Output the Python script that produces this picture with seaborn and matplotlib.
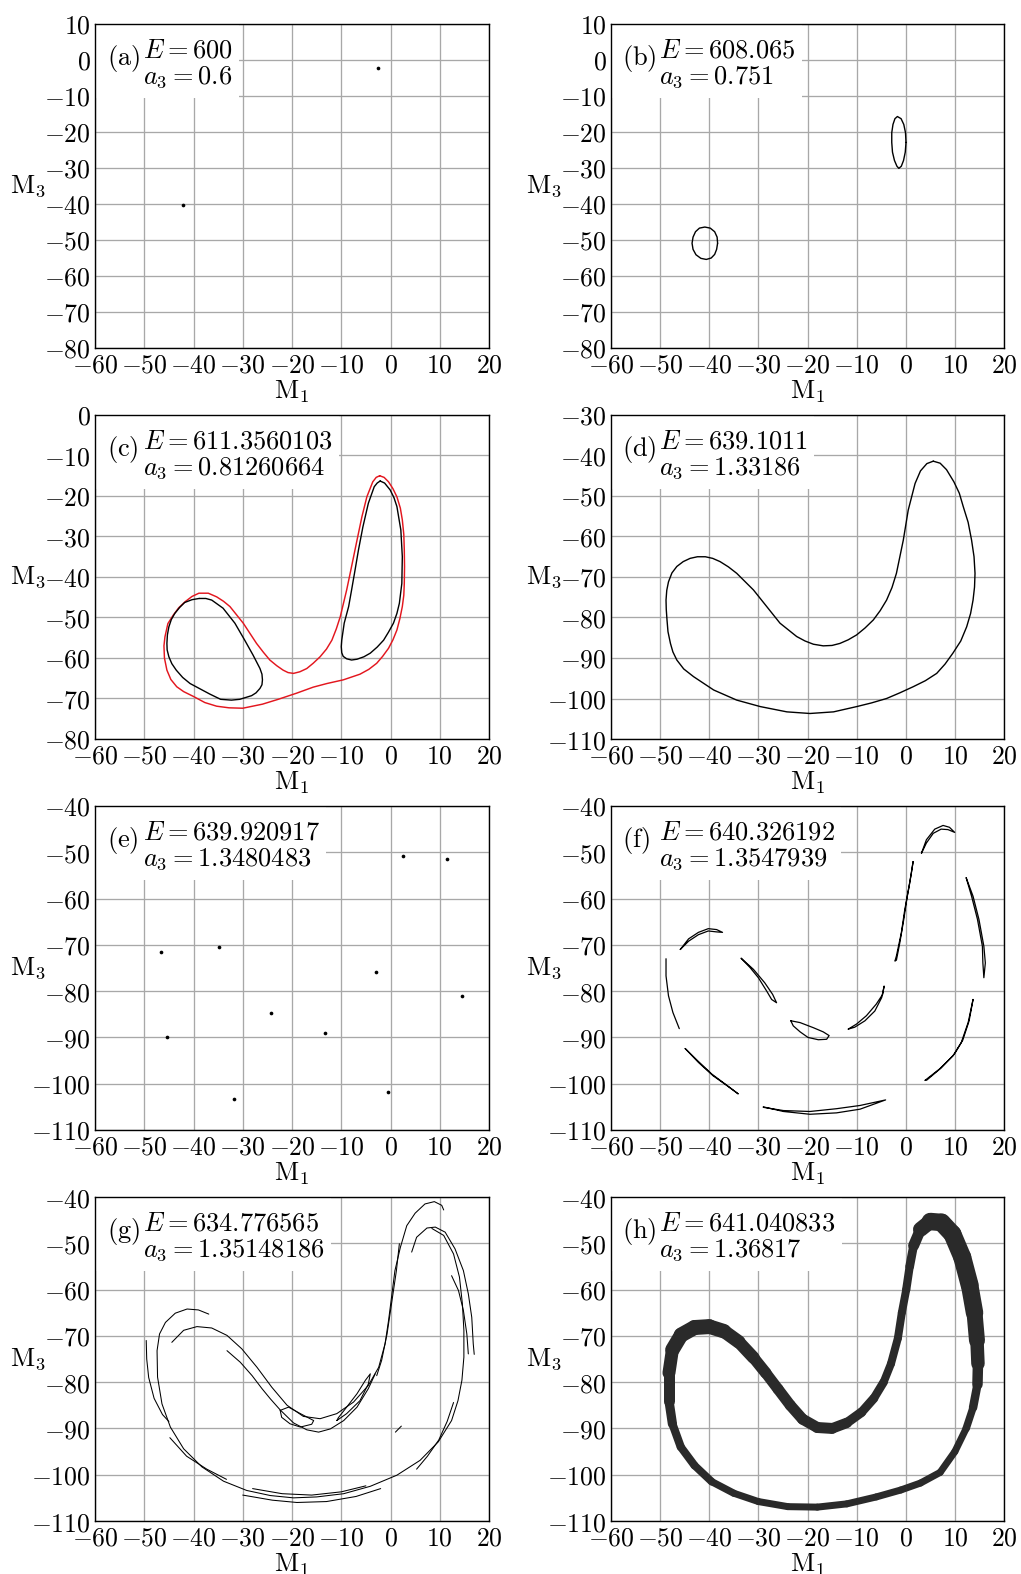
import matplotlib
matplotlib.use('Agg')
import matplotlib.pyplot as plt
import seaborn as sns
from matplotlib.patches import Rectangle
from matplotlib.ticker import FuncFormatter, MultipleLocator

# ------------------------------------------------------------------ data
panel_tags = ['a', 'b', 'c', 'd', 'e', 'f', 'g', 'h']
panel_E = ['600', '608.065', '611.3560103', '639.1011',
           '639.920917', '640.326192', '634.776565', '641.040833']
panel_a3 = ['0.6', '0.751', '0.81260664', '1.33186',
            '1.3480483', '1.3547939', '1.35148186', '1.36817']
panel_ylim = [(-80, 10), (-80, 10), (-80, 0), (-110, -30),
              (-110, -40), (-110, -40), (-110, -40), (-110, -40)]

# (a) fixed points
a_x = [-42.1, -2.5]
a_y = [-40.2, -2.2]

# (b) two small closed orbits
b_left_x = [-38.3, -38.4, -38.9, -39.8, -40.9, -42.0, -42.8, -43.3, -43.5,
            -43.3, -42.7, -41.7, -40.6, -39.6, -38.9, -38.5, -38.3]
b_left_y = [-50.9, -49.2, -47.7, -46.7, -46.4, -46.7, -47.7, -49.2, -50.9,
            -52.6, -54.1, -55.1, -55.4, -55.0, -54.0, -52.6, -50.9]
b_right_x = [0.05, -0.05, -0.4, -0.95, -1.7, -2.2, -2.6, -2.85, -2.85,
             -2.7, -2.3, -1.8, -1.4, -0.9, -0.45, -0.1, 0.05]
b_right_y = [-22.9, -20.2, -17.9, -16.3, -15.7, -16.3, -17.9, -20.2, -22.9,
             -25.6, -27.9, -29.5, -30.1, -29.5, -27.9, -25.6, -22.9]

# (c) two black loops and the red enclosing orbit
c_left_x = [-38.85, -37.5, -36.3, -34.0, -31.6, -29.6, -27.9, -26.5, -26.1,
            -26.0, -26.1, -26.5, -27.3, -28.2, -30.6, -32.3, -34.5, -36.7,
            -38.7, -40.7, -42.2, -43.5, -44.4, -45.0, -45.35, -45.4, -45.3,
            -45.0, -44.5, -43.8, -42.8, -41.8, -40.3, -38.85]
c_left_y = [-45.3, -45.3, -45.7, -47.7, -51.4, -55.6, -59.3, -62.6, -64.0,
            -65.4, -66.6, -67.5, -68.6, -69.3, -70.2, -70.4, -70.2, -68.9,
            -67.6, -66.3, -64.8, -63.0, -61.4, -59.7, -58.0, -56.4, -54.3,
            -52.3, -50.5, -49.0, -47.5, -46.3, -45.6, -45.3]
c_right_x = [-2.1, -1.2, -0.07, 0.7, 1.3, 2.1, 2.4, 2.3, 1.8, 1.3, 0.6, -0.4,
             -1.4, -2.7, -4.1, -5.4, -6.8, -7.9, -8.9, -9.6, -9.9, -10.0,
             -9.9, -9.4, -8.5, -7.9, -7.2, -6.5, -5.6, -4.5, -3.3, -2.7, -2.1]
c_right_y = [-16.3, -16.8, -18.5, -20.4, -22.6, -28.4, -35.0, -41.6, -46.5,
             -49.0, -51.4, -53.6, -55.6, -57.3, -58.8, -59.7, -60.3, -60.5,
             -60.2, -59.6, -58.7, -57.2, -55.6, -51.4, -47.3, -43.2, -38.3,
             -33.3, -27.6, -21.8, -17.7, -16.8, -16.3]
c_red_x = [-2.2, -1.3, -0.4, 0.5, 1.3, 2.0, 2.4, 2.7, 2.8, 2.85, 2.8, 2.7,
           2.4, 1.9, 1.3, 0.5, -0.4, -1.6, -2.8, -4.4, -6.2, -9.6, -12.9,
           -15.7, -19.1, -22.8, -26.0, -30.0, -32.8, -35.3, -37.7, -40.0,
           -42.0, -43.4, -44.6, -45.4, -45.9, -46.0, -45.8, -45.2, -44.1,
           -43.0, -41.7, -40.3, -38.9, -37.0, -35.3, -33.9, -32.6, -29.9,
           -27.2, -25.8, -24.5, -23.1, -21.8, -20.8, -19.7, -18.4, -17.0,
           -15.7, -14.3, -13.0, -11.9, -11.0, -10.2, -8.9, -7.9, -6.8, -5.8,
           -4.8, -3.6, -2.9, -2.2]
c_red_y = [-15.0, -15.4, -16.5, -18.2, -20.2, -23.0, -25.9, -29.5, -33.3,
           -37.5, -41.6, -44.5, -47.3, -50.3, -53.1, -55.5, -57.6, -59.6,
           -61.3, -62.8, -64.0, -65.4, -66.3, -67.2, -68.7, -70.2, -71.4,
           -72.4, -72.3, -71.9, -71.0, -69.5, -68.3, -67.1, -65.3, -63.0,
           -60.0, -57.0, -54.8, -51.5, -49.4, -47.6, -46.1, -44.8, -44.0,
           -44.0, -44.9, -46.0, -47.3, -51.4, -56.4, -58.6, -60.5, -61.9,
           -63.0, -63.6, -63.8, -63.4, -62.6, -61.3, -59.7, -57.8, -55.6,
           -52.8, -49.8, -43.2, -37.4, -30.9, -25.1, -20.2, -16.5, -15.4, -15.0]

# (d) single closed orbit
d_x = [5.6, 7.0, 8.3, 9.8, 10.9, 11.7, 12.7, 13.4, 13.9, 14.1, 14.0, 13.7,
       13.2, 12.4, 11.2, 9.6, 8.0, 6.3, 4.0, 1.5, -1.2, -3.9, -7.0, -10.0,
       -14.7, -19.5, -24.2, -29.6, -34.4, -39.1, -43.2, -45.2, -46.6, -47.4,
       -47.9, -48.4, -48.6, -48.75, -48.8, -48.65, -48.3, -47.6, -46.6, -45.3,
       -43.9, -42.4, -40.8, -39.3, -37.8, -36.1, -34.4, -31.0, -28.3, -25.6,
       -22.2, -20.5, -18.8, -16.8, -15.0, -13.4, -11.7, -10.0, -8.3, -6.6,
       -5.2, -3.9, -2.8, -1.9, -1.2, -0.5, 0.5, 1.9, 3.0, 4.3, 5.6]
d_y = [-41.4, -41.9, -43.5, -46.5, -49.3, -52.6, -56.5, -60.9, -65.0, -69.1,
       -72.5, -75.7, -79.0, -82.3, -85.8, -88.8, -91.5, -93.8, -95.6, -97.1,
       -98.6, -100.0, -101.1, -102.0, -103.3, -103.7, -103.3, -102.0, -100.4,
       -97.9, -94.6, -92.7, -90.5, -88.5, -86.4, -83.5, -80.6, -78.0, -75.7,
       -73.3, -71.2, -69.0, -67.4, -66.2, -65.4, -65.0, -65.0, -65.4, -66.2,
       -67.5, -69.1, -73.2, -77.3, -81.4, -84.7, -85.8, -86.6, -87.0, -86.9,
       -86.4, -85.5, -84.3, -82.6, -80.6, -78.3, -75.7, -72.6, -69.1, -65.0,
       -60.9, -53.5, -46.9, -43.8, -42.0, -41.4]

# (e) period-11 points
e_x = [-46.7, -34.8, -45.3, -31.8, -24.3, -13.3, -2.9, -0.6, 2.6, 11.5, 14.5]
e_y = [-71.6, -70.4, -90.0, -103.2, -84.7, -89.0, -75.8, -101.8, -50.9,
       -51.5, -81.0]

# (f) eleven thin islands
f_x_segs = [
    [3.2, 4.2, 5.9, 7.6, 8.9, 9.96, 8.6, 7.2, 5.6, 4.2, 3.2],
    [1.5, 0.7, -0.2, -0.9, -1.9, -2.2, -1.9, -1.2, -0.4, 0.3, 1.1, 1.5],
    [12.3, 13.7, 14.9, 15.9, 16.2, 15.9, 15.7, 15.6, 14.6, 13.4, 12.3],
    [13.7, 12.7, 11.3, 9.6, 6.9, 3.9, 4.3, 7.2, 9.9, 11.6, 12.9, 13.7],
    [-29.0, -24.9, -19.5, -14.1, -9.3, -4.1, -9.3, -14.1, -19.5, -24.9, -29.0],
    [-44.9, -42.2, -39.2, -36.4, -34.1, -36.6, -39.5, -42.4, -44.9],
    [-48.8, -48.8, -48.3, -47.4, -46.1],
    [-45.9, -44.2, -42.2, -40.2, -38.5, -37.3, -38.5, -40.2, -42.2, -44.2, -45.9],
    [-33.5, -31.0, -28.7, -27.1, -26.3, -27.3, -28.3, -30.0, -31.7, -33.5],
    [-23.4, -21.5, -18.8, -16.8, -15.6, -16.1, -17.8, -19.9, -21.5, -22.9, -23.4],
    [-11.7, -10.0, -8.0, -6.0, -4.7, -4.4, -4.9, -6.3, -8.3, -10.4, -11.7],
]
f_y_segs = [
    [-50.2, -47.3, -45.0, -44.2, -44.6, -45.7, -45.1, -45.0, -45.9, -48.0, -50.2],
    [-52.0, -57.3, -62.4, -67.4, -72.4, -73.5, -73.3, -69.5, -64.5, -59.5, -54.8, -52.0],
    [-55.5, -59.5, -64.5, -70.3, -73.9, -77.1, -73.9, -70.3, -64.5, -59.5, -55.5],
    [-81.8, -86.8, -91.1, -94.0, -96.8, -99.3, -99.2, -96.6, -93.6, -90.6, -86.4, -81.8],
    [-105.0, -106.0, -106.6, -106.3, -105.5, -103.5, -104.7, -105.4, -106.0, -105.8, -105.1],
    [-92.4, -95.4, -98.3, -100.4, -102.2, -100.2, -97.9, -95.0, -92.4],
    [-73.0, -76.7, -81.0, -84.6, -88.1],
    [-71.0, -68.7, -67.3, -66.5, -66.7, -67.3, -67.2, -67.0, -67.8, -69.2, -71.0],
    [-72.9, -75.3, -78.2, -80.7, -82.5, -81.8, -80.0, -77.1, -74.9, -72.9],
    [-86.4, -86.8, -87.9, -88.8, -89.6, -90.4, -90.5, -90.0, -88.8, -87.5, -86.4],
    [-88.2, -87.1, -85.3, -82.8, -80.7, -78.9, -81.4, -84.3, -86.4, -87.8, -88.2],
]

# (g) strands of the folded torus
g_x_segs = [
    [-44.4, -42.0, -39.3, -36.3, -33.2, -30.2, -27.1, -24.1, -21.0, -17.7,
     -14.3, -10.9, -7.5, -4.5, -2.4, -1.1, -0.4, 0.3, 0.9, 2.0, 3.3, 5.0,
     7.0, 8.9, 10.4, 10.8],
    [4.3, 5.3, 7.4, 9.1, 11.1, 13.1, 14.8, 15.8, 16.5, 16.8, 17.0],
    [8.4, 10.8, 12.8, 14.0, 14.6, 14.9, 14.9, 14.5, 13.7, 12.4, 9.7, 6.0,
     1.3, -4.1, -9.5, -15.0, -19.7, -24.4, -29.2, -33.9, -38.3, -42.0, -44.7,
     -46.4, -47.3, -47.4, -46.9, -45.7, -43.7, -41.3, -39.0, -36.9],
    [12.4, 13.8, 14.8, 15.5, 15.8],
    [12.8, 11.5, 9.8, 7.5, 5.3],
    [-44.8, -41.4, -37.3, -33.3],
    [-30.0, -24.0, -19.0, -13.0, -7.0, -2.0],
    [-28.0, -22.0, -16.0, -10.0, -5.0],
    [-33.2, -30.5, -28.1, -26.1, -24.4, -22.4, -19.7, -17.0, -14.6, -12.2,
     -9.5, -6.8, -4.5, -3.1],
    [-22.4, -20.7, -18.3, -15.6, -16.0, -18.3, -20.4, -22.1, -22.4],
    [-10.9, -8.9, -6.2, -4.5, -4.1, -5.1, -6.8, -8.9, -10.6, -10.9],
    [1.0, 2.2],
    [-49.6, -49.5, -49.1, -48.0, -46.3, -45.0],
    [1.8, 1.2, 0.3, -0.7, -1.8, -2.8],
]
g_y_segs = [
    [-71.4, -68.8, -68.0, -68.3, -69.9, -72.8, -76.8, -81.1, -85.0, -87.4,
     -87.9, -86.8, -84.3, -80.7, -76.8, -71.7, -66.7, -60.9, -55.9, -50.9,
     -46.2, -43.5, -41.5, -41.0, -41.8, -42.8],
    [-51.9, -48.7, -46.7, -46.5, -47.6, -51.2, -55.9, -60.9, -66.0, -71.7, -74.0],
    [-46.8, -48.3, -52.3, -57.3, -63.1, -68.8, -74.6, -79.6, -84.0, -88.3,
     -92.9, -96.9, -100.1, -102.5, -104.1, -104.8, -105.0, -104.5, -103.4,
     -101.4, -98.3, -94.4, -89.7, -84.7, -78.9, -73.2, -69.6, -67.1, -65.1,
     -64.2, -64.4, -65.3],
    [-57.0, -60.2, -64.5, -69.6, -73.9],
    [-84.4, -88.5, -92.5, -96.0, -98.8],
    [-92.0, -96.0, -98.8, -101.0],
    [-104.4, -105.5, -106.0, -105.8, -104.7, -103.0],
    [-103.0, -104.1, -104.4, -103.7, -102.4],
    [-73.2, -75.7, -78.6, -81.4, -83.6, -86.0, -88.8, -90.3, -90.8, -90.1,
     -88.3, -85.4, -81.4, -78.2],
    [-86.1, -85.4, -86.8, -88.3, -89.1, -89.7, -89.0, -87.6, -86.1],
    [-88.3, -86.8, -84.0, -80.4, -78.2, -79.6, -82.5, -85.4, -87.7, -88.3],
    [-90.8, -89.5],
    [-71.0, -75.0, -79.0, -83.5, -87.0, -88.5],
    [-50.1, -55.9, -62.4, -69.6, -75.3, -78.6],
]

# (h) chaotic band
h_x = [1.6, 3.0, 5.0, 7.3, 9.5, 11.5, 13.0, 14.0, 14.5, 14.7, 14.6, 13.7, 12.3,
       10.0, 7.0, 3.0, -1.0, -6.0, -12.0, -18.0, -24.0, -30.0, -35.0, -39.5,
       -43.0, -45.8, -47.5, -48.2, -48.2, -47.5, -45.7, -43.0, -40.0, -37.0,
       -34.0, -31.0, -28.5, -26.0, -23.5, -21.0, -18.0, -15.0, -12.0, -9.0,
       -6.5, -4.5, -3.0, -1.6, -0.8, 0.1, 0.8, 1.6]
h_y = [-50.5, -47.0, -45.3, -45.5, -48.0, -53.0, -59.0, -65.0, -71.0, -76.0,
       -80.5, -85.5, -90.0, -95.0, -99.5, -101.8, -103.3, -104.8, -106.3,
       -107.0, -106.9, -105.8, -104.0, -101.5, -98.0, -94.0, -89.0, -84.0,
       -78.0, -73.0, -69.8, -68.2, -68.0, -69.0, -71.3, -74.7, -78.0, -81.5,
       -85.0, -88.0, -89.8, -90.0, -88.8, -86.5, -83.5, -80.0, -76.0, -70.5,
       -65.0, -60.0, -55.0, -50.5]

# ------------------------------------------------------------------ style
sns.set_theme(style='whitegrid', rc={
    'axes.edgecolor': 'black', 'axes.linewidth': 1.0,
    'grid.color': '#a8a8a8', 'grid.linewidth': 0.95,
    'text.color': 'black', 'axes.labelcolor': 'black',
    'xtick.color': 'black', 'ytick.color': 'black',
    'axes.facecolor': 'white', 'figure.facecolor': 'white'})
plt.rcParams['font.family'] = ['DejaVu Serif']
plt.rcParams['mathtext.fontset'] = 'cm'

W, H = 1021, 1574
fig = plt.figure(figsize=(W / 100, H / 100), dpi=100)
col_left = [95, 611]
col_w = [394, 393]
row_top = [24, 415, 806, 1197]
AH = 324

TICK_FS = 18.5
LAB_FS = 19
ANN_FS = 19

fmt = FuncFormatter(lambda v, p: r'$%d$' % int(round(v)))


def make_ax(i):
    r, c = divmod(i, 2)
    ax = fig.add_axes([col_left[c] / W, 1 - (row_top[r] + AH) / H,
                       col_w[c] / W, AH / H])
    ax.set_xlim(-60, 20)
    ax.set_ylim(*panel_ylim[i])
    ax.xaxis.set_major_locator(MultipleLocator(10))
    ax.yaxis.set_major_locator(MultipleLocator(10))
    ax.xaxis.set_major_formatter(fmt)
    ax.yaxis.set_major_formatter(fmt)
    ax.set_axisbelow(True)
    ax.grid(True, color='#a8a8a8', linewidth=0.95)
    for s in ax.spines.values():
        s.set_visible(True)
        s.set_color('black')
        s.set_linewidth(1.0)
        s.set_zorder(4)
    ax.tick_params(length=0, pad=3, labelsize=TICK_FS)
    return ax


def curve(ax, xs, ys, color='black', lw=1.0, **kw):
    sns.lineplot(x=xs, y=ys, ax=ax, sort=False, estimator=None,
                 color=color, linewidth=lw, legend=False, **kw)


axes = [make_ax(i) for i in range(8)]

# (a)
sns.scatterplot(x=a_x, y=a_y, ax=axes[0], color='black', s=7, linewidth=0, legend=False)
# (b)
curve(axes[1], b_left_x, b_left_y)
curve(axes[1], b_right_x, b_right_y)
# (c)
curve(axes[2], c_red_x, c_red_y, color='#e3161e', lw=1.05)
curve(axes[2], c_left_x, c_left_y)
curve(axes[2], c_right_x, c_right_y)
# (d)
curve(axes[3], d_x, d_y)
# (e)
sns.scatterplot(x=e_x, y=e_y, ax=axes[4], color='black', s=7, linewidth=0, legend=False)
# (f)
for xs, ys in zip(f_x_segs, f_y_segs):
    curve(axes[5], xs, ys, lw=0.9)
# (g)
for xs, ys in zip(g_x_segs, g_y_segs):
    curve(axes[6], xs, ys, lw=0.75)
# (h) band drawn as a tube whose thickness (pixels) follows the picture
h_lw_px = [9, 13, 17, 18, 18, 18, 18, 17, 15, 12, 9, 8, 7, 7, 7, 7, 7, 7, 7, 7,
           7, 7, 7, 7.5, 8, 8, 8.5, 10, 12, 14, 15, 15, 15, 14, 13, 12, 11, 11,
           11, 11, 11, 11, 10, 9, 9, 8, 8, 8, 8, 8, 8.5, 9]
for k in range(len(h_x) - 1):
    w = 0.5 * (h_lw_px[k] + h_lw_px[k + 1]) * 0.72
    curve(axes[7], h_x[k:k + 2], h_y[k:k + 2], color='#2a2a2a', lw=w,
          solid_capstyle='round')

# labels and annotations
texts = []
for i, ax in enumerate(axes):
    c = i % 2
    ax.set_xlabel(r'$\mathrm{M}_1$', fontsize=LAB_FS, va='top')
    ax.xaxis.set_label_coords(0.5, -0.095)
    ax.set_ylabel(r'$\mathrm{M}_3$', fontsize=LAB_FS, rotation=0,
                  ha='center', va='center')
    ax.yaxis.set_label_coords(-0.17, 0.5)
    xt = 0.030 if c == 0 else 0.027
    xe = 0.123
    ax.text(xt, 0.873, r'$\mathrm{(%s)}$' % panel_tags[i], transform=ax.transAxes,
            fontsize=ANN_FS, ha='left', va='baseline', zorder=5)
    t1 = ax.text(xe, 0.897, r'$E=%s$' % panel_E[i], transform=ax.transAxes,
                 fontsize=ANN_FS, ha='left', va='baseline', zorder=5)
    t2 = ax.text(xe, 0.817, r'$a_3=%s$' % panel_a3[i], transform=ax.transAxes,
                 fontsize=ANN_FS, ha='left', va='baseline', zorder=5)
    texts.append((t1, t2))

fig.canvas.draw()
renderer = fig.canvas.get_renderer()
for ax, (t1, t2) in zip(axes, texts):
    inv = ax.transAxes.inverted()
    b1 = t1.get_window_extent(renderer).transformed(inv)
    b2 = t2.get_window_extent(renderer).transformed(inv)
    x1 = max(b1.x1, b2.x1) + 6 / 394
    y0 = min(b1.y0, b2.y0) - 8 / 324
    ax.add_patch(Rectangle((0, y0), x1, 1 - y0, transform=ax.transAxes,
                           facecolor='white', edgecolor='none', zorder=1))

fig.savefig('out.png', dpi=100)
